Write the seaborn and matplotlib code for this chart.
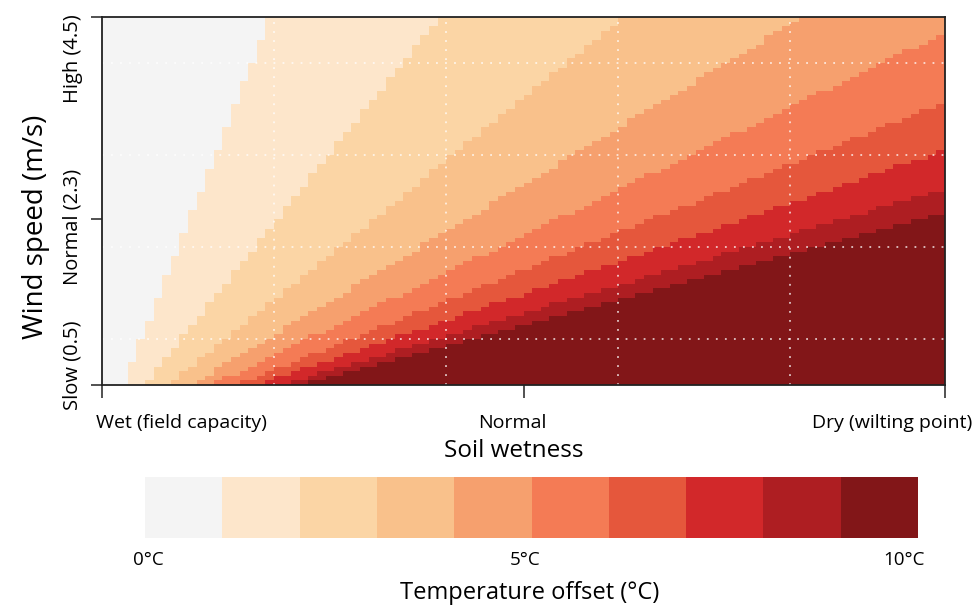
import numpy as np
import matplotlib
matplotlib.use("Agg")
import matplotlib.pyplot as plt
import matplotlib.transforms as mtrans
from matplotlib.colors import ListedColormap
import seaborn as sns

# Soil wetness runs over 98 columns (wet -> dry), wind speed 0.5 -> 4.5 m/s
wind_rows = [0.5, 1.0, 1.5, 2.0, 2.5, 3.0, 3.5, 4.0, 4.5]

# column where each 1°C step of the offset begins, read at every wind row
edge_1c = [2.5, 4.6, 6.7, 8.9, 11.0, 13.2, 15.3, 17.4, 19.6]
edge_2c = [4.9, 9.2, 13.5, 17.8, 22.0, 26.3, 30.6, 34.9, 39.2]
edge_3c = [7.6, 14.3, 20.9, 27.5, 34.2, 40.8, 47.4, 54.1, 60.7]
edge_4c = [10.3, 19.2, 28.1, 37.0, 45.9, 54.8, 63.7, 72.6, 81.5]
edge_5c = [12.8, 23.9, 35.1, 46.2, 57.3, 68.5, 79.6, 90.7, 101.8]
edge_6c = [15.5, 28.9, 42.3, 55.7, 69.2, 82.6, 96.0, 109.4, 122.9]
edge_7c = [18.0, 33.7, 49.4, 65.1, 80.8, 96.4, 112.1, 127.7, 143.4]
edge_8c = [20.8, 38.9, 57.0, 75.1, 93.2, 111.2, 129.3, 147.4, 165.5]
edge_9c = [23.1, 43.2, 63.2, 83.3, 103.4, 123.4, 143.5, 163.5, 183.6]

soil_labels = ["Wet (field capacity)", "Normal", "Dry (wilting point)"]
wind_ticks = [4.5, 2.3, 0.5]
wind_labels = ["High (4.5)", "Normal (2.3)", "Slow (0.5)"]
offset_ticks = [0, 5, 10]

colors = ["#f4f4f4", "#fde6cb", "#fbd5a5", "#f9c18b", "#f6a06e",
          "#f47b55", "#e5573c", "#d2282a", "#ae1e22", "#821618"]
cmap = ListedColormap(colors)

# rasterise the stepped field: count how many steps begin left of each cell
n_cols, n_rows = 98, 80
edges = [edge_1c, edge_2c, edge_3c, edge_4c, edge_5c, edge_6c, edge_7c, edge_8c, edge_9c]
wind_centres = 4.5 - (np.arange(n_rows) + 0.5) * 4.0 / n_rows
col_centres = np.arange(n_cols) + 0.5
field = np.zeros((n_rows, n_cols))
for e in edges:
    pos = np.interp(wind_centres, wind_rows, e)
    field += col_centres[None, :] >= pos[:, None]

sns.set_style("white")
plt.rcParams["font.family"] = ["Open Sans", "DejaVu Sans"]
plt.rcParams["text.color"] = "black"
plt.rcParams["axes.labelcolor"] = "black"
plt.rcParams["xtick.color"] = "black"
plt.rcParams["ytick.color"] = "black"

fig = plt.figure(figsize=(9.72, 6.05), dpi=100)
ax = fig.add_axes([0.105, 0.3636, 0.8672, 0.6083])
sns.heatmap(field, cmap=cmap, vmin=-0.5, vmax=9.5, cbar=False, ax=ax,
            xticklabels=False, yticklabels=False)

for s in ax.spines.values():
    s.set_visible(True)
    s.set_color("#222222")
    s.set_linewidth(1.3)

# dotted guide lines
for c in [20, 40, 60, 80]:
    ax.axvline(c, color="white", ls=(0, (1, 4)), lw=1.3, alpha=0.75)
for w in [4.0, 3.0, 2.0, 1.0]:
    ax.axhline((4.5 - w) / 4.0 * n_rows, color="white", ls=(0, (1, 4)), lw=1.3, alpha=0.75)

ax.set_xticks([0, n_cols / 2, n_cols])
ax.set_xticklabels(soil_labels, fontsize=14)
ax.set_yticks([(4.5 - w) / 4.0 * n_rows for w in wind_ticks])
ax.set_yticklabels(wind_labels, fontsize=14.5, rotation=90)
ax.tick_params(axis="x", length=9, width=1.1, color="#222222", pad=12, bottom=True)
ax.tick_params(axis="y", length=8, width=1.1, color="#222222", pad=6, left=True)


def nudge(lbl, dx, dy):
    lbl.set_transform(lbl.get_transform() + mtrans.ScaledTranslation(dx / 100, dy / 100, fig.dpi_scale_trans))


xl = ax.get_xticklabels()
xl[0].set_ha("left")
nudge(xl[0], -6, 0)
xl[2].set_ha("right")
nudge(xl[2], 27, 0)
nudge(xl[1], -11, 0)
yl = ax.get_yticklabels()
yl[0].set_va("top")
nudge(yl[0], 0, 3)
yl[1].set_va("center")
nudge(yl[1], 0, -8)
yl[2].set_va("center")
nudge(yl[2], 0, 20)

ax.set_xlabel("Soil wetness", fontsize=17.5)
ax.xaxis.set_label_coords(0.489, -0.148)
ax.set_ylabel("Wind speed (m/s)", fontsize=20)
ax.yaxis.set_label_coords(-0.062, 0.43)

# colour key
cax = fig.add_axes([0.1492, 0.1107, 0.7953, 0.1008])
sns.heatmap(np.arange(10)[None, :], cmap=cmap, vmin=-0.5, vmax=9.5, cbar=False, ax=cax,
            xticklabels=False, yticklabels=False)
cax.set_xticks(offset_ticks)
cax.set_xticklabels([f"{t}°C" for t in offset_ticks], fontsize=13.5)
cax.tick_params(axis="x", length=0, pad=9)
cl = cax.get_xticklabels()
nudge(cl[0], 3, 0)
nudge(cl[1], -6, 0)
nudge(cl[2], -14, 0)
cax.set_xlabel("Temperature offset (°C)", fontsize=17)
cax.xaxis.set_label_coords(0.497, -0.70)

fig.savefig("out.png", dpi=100, facecolor="white")
